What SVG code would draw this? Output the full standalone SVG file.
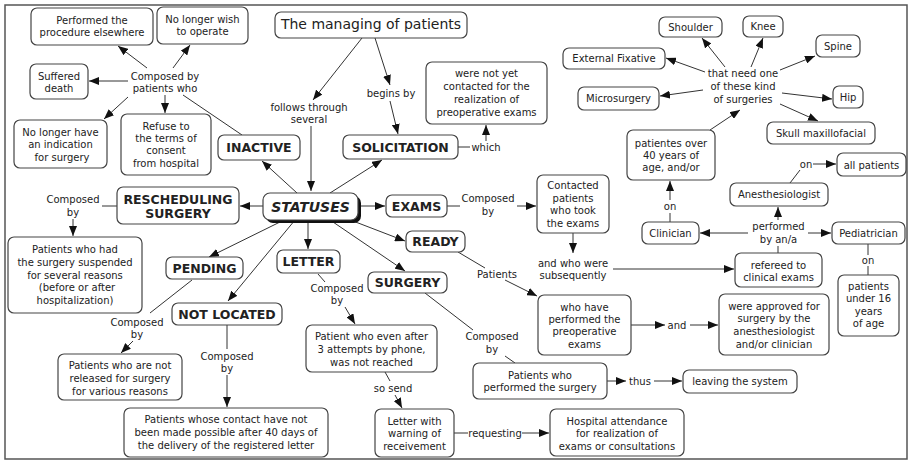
<svg xmlns="http://www.w3.org/2000/svg" width="911" height="462" viewBox="0 0 911 462">
<style>
.n{fill:#fff;stroke:#444;stroke-width:1.2}
text{font-family:"DejaVu Sans",Verdana,sans-serif;font-size:10px;fill:#222;text-anchor:middle}
.b{font-weight:bold;font-size:12.5px}
.l line{stroke:#333;stroke-width:1}
.l .a{marker-end:url(#ah)}
</style>
<defs>
<marker id="ah" markerUnits="userSpaceOnUse" markerWidth="10" markerHeight="8" refX="10" refY="4" orient="auto"><path d="M0,0L10,4L0,8z" fill="#111"/></marker>
</defs>
<rect x="5" y="5" width="902" height="454" fill="#fff" stroke="#555" stroke-width="1.5"/>
<g class="l">
<line class="a" x1="362" y1="38" x2="313" y2="100"/>
<line class="a" x1="311" y1="126" x2="311" y2="191"/>
<line class="a" x1="375" y1="38" x2="390" y2="85"/>
<line class="a" x1="390" y1="101" x2="398" y2="134"/>
<line x1="458" y1="147" x2="470" y2="147"/>
<line class="a" x1="486" y1="141" x2="486" y2="125"/>
<line class="a" x1="297" y1="193" x2="262" y2="161"/>
<line x1="242" y1="135" x2="183" y2="95"/>
<line class="a" x1="147" y1="68" x2="118" y2="46"/>
<line class="a" x1="173" y1="68" x2="190" y2="45"/>
<line class="a" x1="128" y1="81" x2="89" y2="81"/>
<line class="a" x1="165" y1="95" x2="165" y2="113"/>
<line class="a" x1="128" y1="97" x2="104" y2="119"/>
<line class="a" x1="330" y1="193" x2="382" y2="160"/>
<line class="a" x1="263" y1="206" x2="240" y2="206"/>
<line x1="117" y1="206" x2="102" y2="206"/>
<line class="a" x1="73" y1="219" x2="73" y2="236"/>
<line class="a" x1="358" y1="206" x2="385" y2="206"/>
<line x1="447" y1="206" x2="460" y2="206"/>
<line class="a" x1="517" y1="206" x2="536" y2="206"/>
<line class="a" x1="573" y1="233" x2="573" y2="253"/>
<line class="a" x1="613" y1="269" x2="734" y2="269"/>
<line x1="778" y1="253" x2="778" y2="246"/>
<line class="a" x1="748" y1="233" x2="700" y2="233"/>
<line class="a" x1="808" y1="233" x2="831" y2="233"/>
<line class="a" x1="778" y1="220" x2="778" y2="207"/>
<line x1="790" y1="183" x2="800" y2="170"/>
<line class="a" x1="813" y1="164" x2="836" y2="164"/>
<line x1="868" y1="244" x2="868" y2="255"/>
<line x1="868" y1="266" x2="868" y2="275"/>
<line x1="670" y1="222" x2="670" y2="213"/>
<line class="a" x1="670" y1="200" x2="670" y2="181"/>
<line class="a" x1="710" y1="130" x2="740" y2="110"/>
<line class="a" x1="725" y1="67" x2="702" y2="38"/>
<line class="a" x1="751" y1="67" x2="763" y2="38"/>
<line class="a" x1="780" y1="70" x2="815" y2="56"/>
<line class="a" x1="705" y1="72" x2="666" y2="58"/>
<line class="a" x1="703" y1="90" x2="660" y2="96"/>
<line class="a" x1="782" y1="93" x2="832" y2="99"/>
<line class="a" x1="780" y1="104" x2="818" y2="121"/>
<line class="a" x1="353" y1="221" x2="405" y2="241"/>
<line x1="458" y1="252" x2="485" y2="268"/>
<line class="a" x1="505" y1="280" x2="537" y2="296"/>
<line class="a" x1="631" y1="325" x2="665" y2="325"/>
<line class="a" x1="690" y1="325" x2="718" y2="325"/>
<line class="a" x1="333" y1="222" x2="405" y2="271"/>
<line x1="425" y1="293" x2="473" y2="330"/>
<line x1="505" y1="356" x2="515" y2="363"/>
<line class="a" x1="607" y1="381" x2="626" y2="381"/>
<line class="a" x1="654" y1="381" x2="682" y2="381"/>
<line class="a" x1="308" y1="220" x2="308" y2="249"/>
<line x1="318" y1="274" x2="325" y2="282"/>
<line class="a" x1="345" y1="307" x2="355" y2="324"/>
<line x1="385" y1="372" x2="390" y2="381"/>
<line class="a" x1="395" y1="395" x2="402" y2="408"/>
<line x1="454" y1="433" x2="468" y2="433"/>
<line class="a" x1="522" y1="433" x2="549" y2="433"/>
<line class="a" x1="280" y1="222" x2="209" y2="257"/>
<line x1="192" y1="280" x2="150" y2="313"/>
<line class="a" x1="133" y1="341" x2="121" y2="353"/>
<line class="a" x1="295" y1="220" x2="228" y2="301"/>
<line x1="227" y1="325" x2="227" y2="349"/>
<line class="a" x1="227" y1="375" x2="227" y2="407"/>
</g>
<g id="labels">
<text x="165" y="79.5">Composed by</text><text x="165" y="91.5">patients who</text>
<text x="309" y="110.5">follows through</text><text x="309" y="123">several</text>
<text x="391" y="96.5">begins by</text>
<text x="486" y="150.5">which</text>
<text x="743" y="76.5">that need one</text><text x="743" y="89.5">of these kind</text><text x="743" y="102.5">of surgeries</text>
<text x="670" y="209.5">on</text>
<text x="778.5" y="229.5">performed</text><text x="778.5" y="242.5">by an/a</text>
<text x="806" y="167.5">on</text>
<text x="868" y="263.5">on</text>
<text x="488" y="201.5">Composed</text><text x="488" y="214.5">by</text>
<text x="573" y="266.5">and who were</text><text x="573" y="278.5">subsequently</text>
<text x="497" y="277.5">Patients</text>
<text x="677" y="328.5">and</text>
<text x="73" y="202.5">Composed</text><text x="73" y="215.5">by</text>
<text x="137" y="325.5">Composed</text><text x="137" y="337.5">by</text>
<text x="227" y="359.5">Composed</text><text x="227" y="371.5">by</text>
<text x="337" y="291.5">Composed</text><text x="337" y="303.5">by</text>
<text x="393" y="391.5">so send</text>
<text x="495" y="436.5">requesting</text>
<text x="492" y="339.5">Composed</text><text x="492" y="352.5">by</text>
<text x="640" y="384.5">thus</text>
</g>
<g id="manage"><rect class="n" x="275" y="12" width="192" height="26" rx="6"/><text x="371" y="29" style="font-size:14px">The managing of patients</text></g>
<g id="perfElse"><rect class="n" x="31" y="8" width="122" height="37" rx="6"/><text x="92" y="23.5">Performed the</text><text x="92" y="35.5">procedure elsewhere</text></g>
<g id="noWish"><rect class="n" x="157" y="7" width="91" height="37" rx="6"/><text x="202.5" y="22.5">No longer wish</text><text x="202.5" y="35">to operate</text></g>
<g id="suffered"><rect class="n" x="30" y="64" width="58" height="35" rx="6"/><text x="59" y="79.5">Suffered</text><text x="59" y="91.5">death</text></g>
<g id="noIndication"><rect class="n" x="14" y="120" width="93" height="48" rx="6"/><text x="60.5" y="135.5">No longer have</text><text x="60.5" y="148">an indication</text><text x="62" y="160.5">for surgery</text></g>
<g id="refuse"><rect class="n" x="121" y="114" width="90" height="61" rx="6"/><text x="166" y="129.5">Refuse to</text><text x="166" y="141.5">the terms of</text><text x="166" y="154">consent</text><text x="166" y="166.5">from hospital</text></g>
<g id="inactive"><rect class="n" x="218" y="135" width="82" height="25" rx="6"/><text class="b" x="259" y="152">INACTIVE</text></g>
<g id="solicitation"><rect class="n" x="343" y="135" width="115" height="24" rx="6"/><text class="b" x="400.5" y="151.5">SOLICITATION</text></g>
<g id="notYet"><rect class="n" x="426" y="62" width="121" height="62" rx="6"/><text x="486.5" y="76.5">were not yet</text><text x="486.5" y="89.5">contacted for the</text><text x="486.5" y="102.5">realization of</text><text x="486.5" y="115.5">preoperative exams</text></g>
<g id="extFix"><rect class="n" x="563" y="48" width="102" height="21" rx="6"/><text x="614" y="62">External Fixative</text></g>
<g id="micro"><rect class="n" x="578" y="87" width="81" height="23" rx="6"/><text x="618.5" y="102">Microsurgery</text></g>
<g id="shoulder"><rect class="n" x="659" y="17" width="63" height="20" rx="6"/><text x="690.5" y="30.5">Shoulder</text></g>
<g id="knee"><rect class="n" x="743" y="16" width="40" height="21" rx="6"/><text x="763" y="30">Knee</text></g>
<g id="spine"><rect class="n" x="816" y="35" width="44" height="22" rx="6"/><text x="838" y="49.5">Spine</text></g>
<g id="hip"><rect class="n" x="833" y="86" width="30" height="22" rx="6"/><text x="848" y="100.5">Hip</text></g>
<g id="skull"><rect class="n" x="767" y="122" width="108" height="22" rx="6"/><text x="821" y="136.5">Skull maxillofacial</text></g>
<g id="patientes40"><rect class="n" x="627" y="130" width="88" height="50" rx="6"/><text x="671" y="146.5">patientes over</text><text x="671" y="158.5">40 years of</text><text x="671" y="170.5">age, and/or</text></g>
<g id="clinician"><rect class="n" x="642" y="222" width="57" height="22" rx="6"/><text x="670.5" y="236.5">Clinician</text></g>
<g id="anesth"><rect class="n" x="730" y="183" width="98" height="23" rx="6"/><text x="779" y="198">Anesthesiologist</text></g>
<g id="allPatients"><rect class="n" x="837" y="153" width="69" height="23" rx="6"/><text x="871.5" y="168.5">all patients</text></g>
<g id="pediatrician"><rect class="n" x="832" y="222" width="73" height="22" rx="6"/><text x="868.5" y="236.5">Pediatrician</text></g>
<g id="under16"><rect class="n" x="838" y="275" width="61" height="61" rx="6"/><text x="868.5" y="289.5">patients</text><text x="868.5" y="302">under 16</text><text x="868.5" y="314.5">years</text><text x="868.5" y="327">of age</text></g>
<g id="refereed"><rect class="n" x="735" y="253" width="87" height="34" rx="6"/><text x="778.5" y="268.5">refereed to</text><text x="778.5" y="280.5">clinical exams</text></g>
<g id="approved"><rect class="n" x="719" y="294" width="110" height="61" rx="6"/><text x="774" y="309.5">were approved for</text><text x="774" y="321.5">surgery by the</text><text x="774" y="334.5">anesthesiologist</text><text x="774" y="347.5">and/or clinician</text></g>
<g id="whoHave"><rect class="n" x="538" y="295" width="93" height="60" rx="6"/><text x="584.5" y="310.5">who have</text><text x="584.5" y="322.5">performed the</text><text x="584.5" y="334.5">preoperative</text><text x="584.5" y="347.5">exams</text></g>
<g id="contacted"><rect class="n" x="537" y="175" width="72" height="58" rx="6"/><text x="573" y="188.5">Contacted</text><text x="573" y="201.5">patients</text><text x="573" y="213.5">who took</text><text x="573" y="226.5">the exams</text></g>
<g id="exams"><rect class="n" x="386" y="195" width="61" height="22" rx="6"/><text class="b" x="416.5" y="210.5">EXAMS</text></g>
<g id="ready"><rect class="n" x="406" y="231" width="59" height="21" rx="6"/><text class="b" x="435.5" y="246">READY</text></g>
<g id="surgery"><rect class="n" x="368" y="272" width="79" height="21" rx="6"/><text class="b" x="407.5" y="287">SURGERY</text></g>
<g id="letter"><rect class="n" x="277" y="250" width="63" height="23" rx="6"/><text class="b" x="308.5" y="266">LETTER</text></g>
<g id="statuses"><rect x="266" y="196" width="95" height="27" rx="7" fill="#111"/><rect class="n" x="263" y="193" width="95" height="27" rx="7"/><text class="b" x="310.5" y="211.5" style="font-size:14px;font-style:italic">STATUSES</text></g>
<g id="resched"><rect class="n" x="117" y="187" width="122" height="37" rx="6"/><text class="b" x="178" y="203.5">RESCHEDULING</text><text class="b" x="178" y="217.5">SURGERY</text></g>
<g id="suspended"><rect class="n" x="8" y="237" width="134" height="76" rx="6"/><text x="75" y="252.5">Patients who had</text><text x="75" y="265.5">the surgery suspended</text><text x="75" y="278.5">for several reasons</text><text x="77" y="290.5">(before or after</text><text x="75" y="303.5">hospitalization)</text></g>
<g id="pending"><rect class="n" x="166" y="257" width="77" height="22" rx="6"/><text class="b" x="204.5" y="272.5">PENDING</text></g>
<g id="notLocated"><rect class="n" x="172" y="303" width="110" height="22" rx="6"/><text class="b" x="227" y="318.5">NOT LOCATED</text></g>
<g id="notReleased"><rect class="n" x="58" y="354" width="124" height="46" rx="6"/><text x="120" y="368.5">Patients who are not</text><text x="120" y="381.5">released for surgery</text><text x="120" y="394.5">for various reasons</text></g>
<g id="whoseContact"><rect class="n" x="124" y="408" width="204" height="49" rx="6"/><text x="226" y="422.5">Patients whose contact have not</text><text x="226" y="435.5">been made possible after 40 days of</text><text x="226" y="448.5">the delivery of the registered letter</text></g>
<g id="patientEven"><rect class="n" x="306" y="325" width="131" height="47" rx="6"/><text x="371.5" y="339.5">Patient who even after</text><text x="371.5" y="352.5">3 attempts by phone,</text><text x="371.5" y="365.5">was not reached</text></g>
<g id="letterWith"><rect class="n" x="375" y="409" width="79" height="48" rx="6"/><text x="414.5" y="424.5">Letter with</text><text x="414.5" y="436.5">warning of</text><text x="414.5" y="449.5">receivement</text></g>
<g id="hospital"><rect class="n" x="550" y="409" width="134" height="47" rx="6"/><text x="617" y="424.5">Hospital attendance</text><text x="617" y="436.5">for realization of</text><text x="617" y="449.5">exams or consultations</text></g>
<g id="performedSurgery"><rect class="n" x="473" y="363" width="134" height="36" rx="6"/><text x="540" y="378.5">Patients who</text><text x="540" y="390.5">performed the surgery</text></g>
<g id="leaving"><rect class="n" x="683" y="370" width="114" height="23" rx="6"/><text x="740" y="385">leaving the system</text></g>
</svg>
